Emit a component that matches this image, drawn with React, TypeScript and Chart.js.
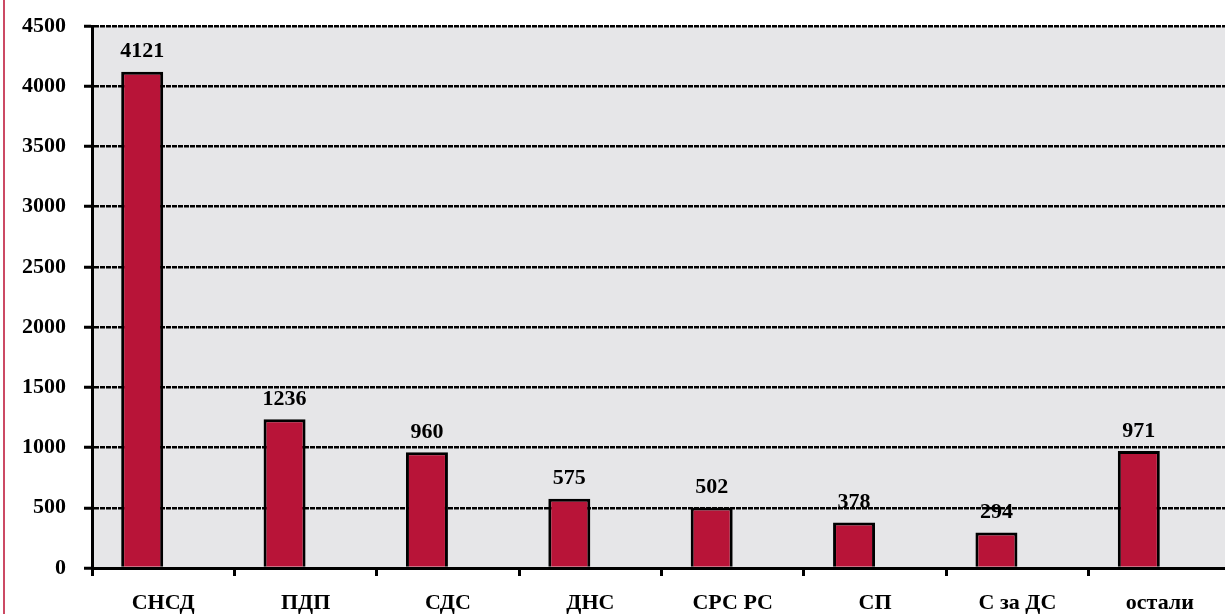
import React, { useEffect, useRef } from "react";
import { Chart, registerables } from "chart.js";

Chart.register(...registerables);

const categories = ["СНСД", "ПДП", "СДС", "ДНС", "СРС РС", "СП", "С за ДС", "остали"];
const seriesValues = [4121, 1236, 960, 575, 502, 378, 294, 971];
const emptySeries = [null, null, null, null, null, null, null, null];
const yTicks = [0, 500, 1000, 1500, 2000, 2500, 3000, 3500, 4000, 4500];

const FONT = "'Liberation Serif', 'Times New Roman', serif";

const plotBackground = {
  id: "plotBackground",
  beforeDraw(chart: any) {
    const { ctx, chartArea } = chart;
    ctx.save();
    ctx.fillStyle = "#e6e6e8";
    ctx.fillRect(chartArea.left, chartArea.top, chartArea.right - chartArea.left, chartArea.bottom - chartArea.top);
    ctx.restore();
  },
};

const valueLabels = {
  id: "valueLabels",
  afterDatasetsDraw(chart: any) {
    const { ctx } = chart;
    const meta = chart.getDatasetMeta(0);
    ctx.save();
    ctx.font = `bold 22px ${FONT}`;
    ctx.fillStyle = "#000";
    ctx.textAlign = "center";
    ctx.textBaseline = "bottom";
    meta.data.forEach((bar: any, i: number) => {
      const v = seriesValues[i];
      ctx.fillText(String(v), bar.x, bar.y - 9);
    });
    ctx.restore();
  },
};

export default function App() {
  const ref = useRef<HTMLCanvasElement | null>(null);
  useEffect(() => {
    if (!ref.current) return;
    const chart = new Chart(ref.current, {
      type: "bar",
      data: {
        labels: categories,
        datasets: [
          {
            data: seriesValues,
            backgroundColor: "#b81438",
            borderColor: "#000",
            borderWidth: 3,
            categoryPercentage: 0.59,
            barPercentage: 1,
          },
          {
            data: emptySeries as any,
            backgroundColor: "#b81438",
            categoryPercentage: 0.59,
            barPercentage: 1,
          },
        ],
      },
      options: {
        animation: false,
        responsive: false,
        maintainAspectRatio: false,
        layout: { padding: { top: 26, right: 9, left: 0, bottom: 0 } },
        plugins: { legend: { display: false }, tooltip: { enabled: false } },
        scales: {
          x: {
            grid: {
              offset: true,
              drawOnChartArea: false,
              drawTicks: true,
              tickLength: 8,
              tickColor: "#000",
              tickWidth: 3,
            },
            border: { display: true, color: "#000", width: 3 },
            ticks: {
              color: "#000",
              font: { family: FONT, size: 22, weight: "bold" },
              padding: 14,
              maxRotation: 0,
              autoSkip: false,
            },
            afterFit(scale: any) {
              scale.height = 46;
              scale.paddingLeft = 0;
              scale.paddingRight = 0;
            },
          },
          y: {
            min: 0,
            max: 4500,
            afterBuildTicks(scale: any) {
              scale.ticks = yTicks.map((v) => ({ value: v }));
            },
            grid: {
              color: "#000",
              lineWidth: 2.5,
              borderDash: [5, 1],
              drawTicks: true,
              tickLength: 8,
              tickColor: "#000",
              tickWidth: 3,
              tickBorderDash: [],
            } as any,
            border: { display: true, color: "#000", width: 3, dash: [5, 1] },
            ticks: {
              color: "#000",
              font: { family: FONT, size: 22, weight: "bold" },
              padding: 18,
              callback: (v: any) => String(v),
            },
            afterFit(scale: any) {
              scale.width = 92;
              scale.paddingTop = 0;
              scale.paddingBottom = 0;
            },
          },
        },
      },
      plugins: [plotBackground, valueLabels],
    });
    return () => chart.destroy();
  }, []);

  return (
    <div
      style={{
        position: "fixed",
        left: 0,
        top: 0,
        width: 1225,
        height: 614,
        overflow: "hidden",
        background: "#fff",
      }}
    >
      <div
        style={{ position: "absolute", left: 3, top: 0, width: 2, height: 614, background: "#cc4a64" }}
      />
      <canvas ref={ref} width={1240} height={614} style={{ position: "absolute", left: 0, top: 0 }} />
    </div>
  );
}
